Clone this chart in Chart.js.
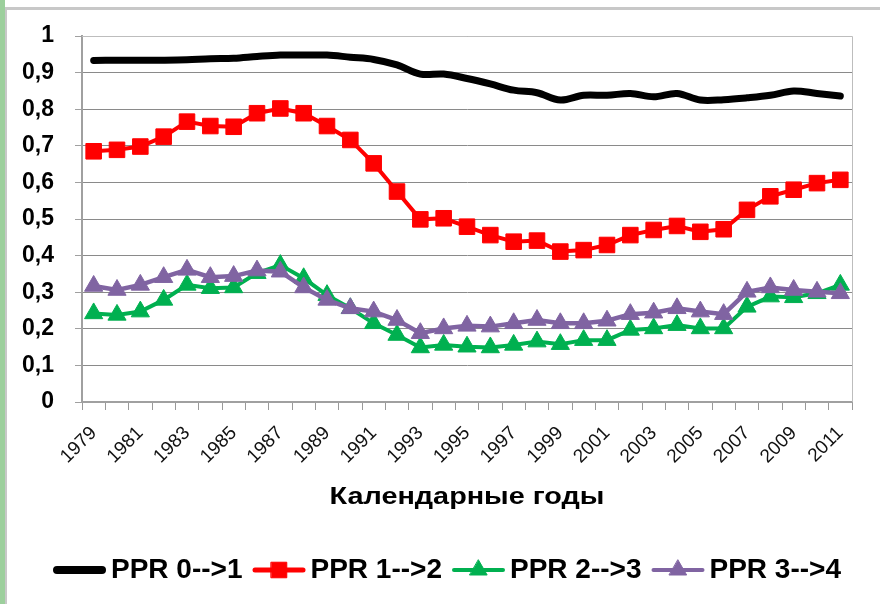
<!DOCTYPE html>
<html>
<head>
<meta charset="utf-8">
<script src="https://cdn.jsdelivr.net/npm/chart.js@4.4.0/dist/chart.umd.min.js"></script>
<style>
html, body { margin: 0; padding: 0; background: #fff; }
body { width: 880px; height: 604px; position: relative; overflow: hidden; }
#strip { position: absolute; left: 0; top: 0; width: 5px; height: 604px; background: #9ccf9c; }
#frame { position: absolute; left: 5px; top: 7px; right: 0; bottom: 0; border-left: 2px solid #c8c8c8; border-top: 3px solid #c8c8c8; }
#wrap { position: absolute; left: 0; top: 0; width: 880px; height: 604px; }
</style>
</head>
<body>
<div id="strip"></div>
<div id="frame"></div>
<div id="wrap"><canvas id="pprChart"></canvas></div>
<script>
const FONT = '"Liberation Sans", Arial, sans-serif';

// calendar years on the x axis
const years = [1979, 1980, 1981, 1982, 1983, 1984, 1985, 1986, 1987, 1988, 1989,
  1990, 1991, 1992, 1993, 1994, 1995, 1996, 1997, 1998, 1999, 2000,
  2001, 2002, 2003, 2004, 2005, 2006, 2007, 2008, 2009, 2010, 2011];

const yTicks = [0, 0.1, 0.2, 0.3, 0.4, 0.5, 0.6, 0.7, 0.8, 0.9, 1];

const seriesNames = ['PPR 0-->1', 'PPR 1-->2', 'PPR 2-->3', 'PPR 3-->4'];

const ppr01 = [0.933, 0.934, 0.934, 0.934, 0.935, 0.938, 0.939, 0.944, 0.948, 0.948, 0.948,
  0.942, 0.936, 0.921, 0.896, 0.896, 0.884, 0.869, 0.852, 0.845, 0.825, 0.838,
  0.838, 0.843, 0.834, 0.843, 0.825, 0.826, 0.831, 0.838, 0.85, 0.843, 0.836];

const ppr12 = [0.685, 0.689, 0.698, 0.725, 0.766, 0.754, 0.752, 0.789, 0.802, 0.789, 0.754,
  0.716, 0.652, 0.575, 0.499, 0.502, 0.479, 0.456, 0.438, 0.441, 0.411, 0.415,
  0.429, 0.456, 0.47, 0.481, 0.465, 0.472, 0.525, 0.562, 0.58, 0.598, 0.607];

const ppr23 = [0.242, 0.238, 0.247, 0.279, 0.32, 0.311, 0.313, 0.352, 0.374, 0.338, 0.292,
  0.256, 0.215, 0.183, 0.149, 0.156, 0.151, 0.149, 0.156, 0.165, 0.158, 0.169,
  0.169, 0.197, 0.201, 0.21, 0.201, 0.201, 0.26, 0.288, 0.286, 0.297, 0.32];

const ppr34 = [0.317, 0.306, 0.32, 0.341, 0.361, 0.341, 0.344, 0.359, 0.356, 0.313, 0.279,
  0.256, 0.247, 0.224, 0.188, 0.201, 0.208, 0.206, 0.215, 0.224, 0.215, 0.215,
  0.222, 0.24, 0.244, 0.256, 0.247, 0.24, 0.301, 0.313, 0.306, 0.301, 0.297];

const colors = ['#000000', '#ff0000', '#00b050', '#8064a2'];

// legend swatches: line + marker drawn by hand (excel style)
const legendSwatch = {
  id: 'legendSwatch',
  afterLayout(chart) {
    // nudge the legend row right so it sits centred under the page like the original
    chart.legend.left += 21;
    chart.legend.right += 21;
  },
  afterDraw(chart) {
    const { ctx } = chart;
    const boxes = chart.legend.legendHitBoxes;
    const widths = [8, 5, 4, 4];
    const marks = [null, { pointStyle: 'rect', radius: 11 }, { pointStyle: 'triangle', radius: 10 }, { pointStyle: 'triangle', radius: 10 }];
    boxes.forEach((b, i) => {
      const y = b.top + b.height / 2;
      const x0 = b.left, x1 = b.left + 53;
      ctx.save();
      ctx.strokeStyle = colors[i];
      ctx.lineWidth = widths[i];
      ctx.lineCap = 'round';
      ctx.beginPath();
      ctx.moveTo(x0 + widths[i] / 2, y);
      ctx.lineTo(x1 - widths[i] / 2, y);
      ctx.stroke();
      if (marks[i]) {
        ctx.fillStyle = colors[i];
        ctx.strokeStyle = colors[i];
        ctx.lineWidth = 1;
        Chart.helpers.drawPoint(ctx, { pointStyle: marks[i].pointStyle, radius: marks[i].radius, rotation: 0, borderWidth: 1 }, (x0 + x1) / 2, y);
      }
      ctx.restore();
    });
  }
};

// plot frame (top/right) + wide axis title
const frameAndTitle = {
  id: 'frameAndTitle',
  beforeDatasetsDraw(chart) {
    const { ctx, chartArea: a } = chart;
    ctx.save();
    ctx.strokeStyle = '#bdbdbd';
    ctx.lineWidth = 1;
    ctx.beginPath();
    ctx.moveTo(a.left, a.top + 0.5);
    ctx.lineTo(a.right + 0.5, a.top + 0.5);
    ctx.lineTo(a.right + 0.5, a.bottom);
    ctx.stroke();
    ctx.restore();
  },
  afterDraw(chart) {
    const { ctx } = chart;
    ctx.save();
    ctx.font = 'bold 24px ' + FONT;
    ctx.fillStyle = '#000';
    ctx.textAlign = 'center';
    ctx.textBaseline = 'middle';
    ctx.translate(467, 497);
    ctx.scale(1.2, 1);
    ctx.fillText('Календарные годы', 0, 0);
    ctx.restore();
  }
};

const ctx = document.getElementById('pprChart').getContext('2d');
new Chart(ctx, {
  type: 'line',
  data: {
    labels: years,
    datasets: [
      { label: seriesNames[0], data: ppr01, borderColor: colors[0], borderWidth: 7, pointRadius: 0,
        tension: 0.35, borderCapStyle: 'round', borderJoinStyle: 'round', order: 4 },
      { label: seriesNames[1], data: ppr12, borderColor: colors[1], backgroundColor: colors[1], borderWidth: 4,
        pointStyle: 'rect', pointRadius: 11, pointBorderWidth: 1,
        pointBackgroundColor: colors[1], pointBorderColor: colors[1], order: 3 },
      { label: seriesNames[2], data: ppr23, borderColor: colors[2], backgroundColor: colors[2], borderWidth: 4,
        pointStyle: 'triangle', pointRadius: 10.5, pointBorderWidth: 1,
        pointBackgroundColor: colors[2], pointBorderColor: colors[2], order: 2 },
      { label: seriesNames[3], data: ppr34, borderColor: colors[3], backgroundColor: colors[3], borderWidth: 4.5,
        pointStyle: 'triangle', pointRadius: 10.5, pointBorderWidth: 1,
        pointBackgroundColor: colors[3], pointBorderColor: colors[3], order: 1 }
    ]
  },
  options: {
    responsive: true,
    maintainAspectRatio: false,
    animation: false,
    layout: { padding: { left: 0, right: 28, top: 36, bottom: 10 } },
    scales: {
      x: {
        offset: true,
        grid: { offset: true, drawOnChartArea: false, drawTicks: true, tickLength: 8, color: '#999', lineWidth: 1 },
        border: { color: '#a0a0a0', width: 2 },
        ticks: {
          autoSkip: false, minRotation: 45, maxRotation: 45, padding: 12,
          color: '#111', font: { family: FONT, size: 19 },
          callback: (v, i) => (i % 2 === 0 ? String(years[i]) : '')
        },
        afterFit(s) { s.height = 144; }
      },
      y: {
        min: 0,
        max: 1,
        afterBuildTicks(s) { s.ticks = yTicks.map(v => ({ value: v })); },
        grid: { color: '#8a8a8a', lineWidth: 1, borderDash: [2, 2], dash: [2, 2], tickBorderDash: [],
          tickColor: '#a0a0a0', tickLength: 7 },
        border: { color: '#a0a0a0', width: 2 },
        ticks: {
          padding: 21, color: '#000', font: { family: FONT, size: 23, weight: 'bold' },
          callback: v => (v === 0 || v === 1 ? String(v) : v.toFixed(1).replace('.', ','))
        },
        afterFit(s) { s.width = 82; }
      }
    },
    plugins: {
      tooltip: { enabled: false },
      legend: {
        position: 'bottom',
        labels: {
          usePointStyle: true,
          pointStyleWidth: 44,
          padding: 10,
          color: '#000',
          font: { family: FONT, size: 28, weight: 'bold' },
          generateLabels(chart) {
            return chart.data.datasets.map((ds, i) => ({
              text: ds.label, datasetIndex: i, hidden: false, pointStyle: 'line',
              fillStyle: 'rgba(0,0,0,0)', strokeStyle: 'rgba(0,0,0,0)', lineWidth: 0, fontColor: '#000'
            }));
          }
        }
      }
    }
  },
  plugins: [frameAndTitle, legendSwatch]
});
</script>
</body>
</html>
